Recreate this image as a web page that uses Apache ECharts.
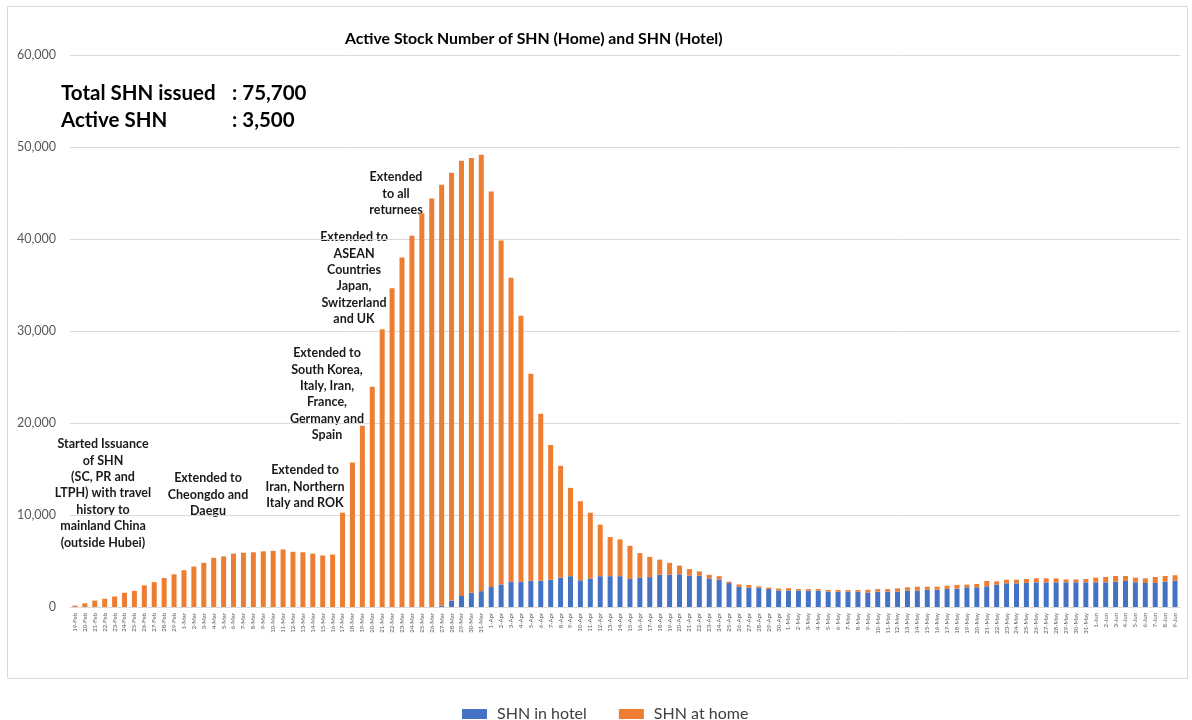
<!DOCTYPE html>
<html>
<head>
<meta charset="utf-8">
<script src="https://cdn.jsdelivr.net/npm/echarts@6/dist/echarts.min.js"></script>
<style>
  html, body { margin: 0; padding: 0; background: #fff; }
  #chart { width: 1192px; height: 720px; }
</style>
</head>
<body>
<div id="chart"></div>
<script>
// months covered, from 19 Feb 2020 to 9 Jun 2020
var monthSpans = [
  ['Feb', 19, 29],
  ['Mar', 1, 31],
  ['Apr', 1, 30],
  ['May', 1, 31],
  ['Jun', 1, 9]
]

var dayLabels = []
monthSpans.forEach(function (m) {
  for (var d = m[1]; d <= m[2]; d++) dayLabels.push(d + '-' + m[0])
})

var inHotel = [
  0, 0, 0, 0, 0, 0, 0, 0, 0, 0, 0, 0, 0, 0, 0, 0, 0, 0, 0, 0, 0, 0, 0, 0, 0, 0, 0,
  0, 0, 0, 0, 0, 0, 0, 0, 0, 0,
  150, 700, 1200, 1550, 1720, 2180, 2450,
  2750, 2750, 2850, 2850, 2950, 3200, 3350, 2900, 3100, 3350, 3350, 3350, 3050, 3200, 3250, 3500, 3500, 3550, 3400, 3400,
  3100, 3000, 2600, 2200, 2100, 2100, 1950, 1800, 1800, 1800, 1780, 1780, 1670, 1670, 1670, 1670, 1560, 1670, 1670, 1670, 1780, 1780, 1880, 1880,
  1950, 2000, 2140, 2140, 2250, 2430, 2570, 2570, 2610, 2680, 2680, 2680, 2680, 2680, 2680, 2680, 2680, 2750, 2830, 2680, 2610, 2610, 2750, 2860
]

var atHome = [
  150, 400, 700, 900, 1150, 1550, 1750, 2350, 2700, 3150, 3550, 4000, 4400, 4800, 5350, 5500, 5800, 5900, 5950, 6050, 6100, 6250, 6000, 5950, 5800, 5600, 5700,
  10250, 15700, 19700, 23950, 30200, 34650, 38000, 40350, 42800, 44400,
  45750, 46500, 47300, 47250, 47430, 42970, 37400,
  33050, 28900, 22500, 18150, 14650, 12150, 9600, 8600, 7150, 5600, 4250, 4000, 3600, 2650, 2200, 1650, 1300, 950, 720, 470,
  400, 350, 150, 250, 300, 150, 150, 200, 250, 150, 170, 170, 180, 180, 180, 180, 320, 280, 280, 360, 360, 430, 330, 330,
  370, 400, 290, 360, 580, 360, 400, 400, 430, 440, 440, 440, 320, 320, 360, 510, 580, 620, 540, 510, 510, 650, 620, 590
]

var annotations = [
  { x: 103, y: 436, lines: ['Started Issuance', 'of SHN', '(SC, PR and', 'LTPH) with travel', 'history to', 'mainland China', '(outside Hubei)'] },
  { x: 208, y: 470, lines: ['Extended to', 'Cheongdo and', 'Daegu'] },
  { x: 305, y: 462, lines: ['Extended to', 'Iran, Northern', 'Italy and ROK'] },
  { x: 327, y: 345, lines: ['Extended to', 'South Korea,', 'Italy, Iran,', 'France,', 'Germany and', 'Spain'] },
  { x: 354, y: 229, lines: ['Extended to', 'ASEAN', 'Countries', 'Japan,', 'Switzerland', 'and UK'] },
  { x: 396, y: 169, lines: ['Extended', 'to all', 'returnees'] }
]

var font = 'Lato, "Open Sans", sans-serif'

var chart = echarts.init(document.getElementById('chart'))

var graphics = [
  {
    type: 'rect',
    shape: { x: 7.5, y: 6.5, width: 1180, height: 672 },
    style: { fill: 'none', stroke: '#d9d9d9', lineWidth: 1 },
    silent: true
  },
  {
    type: 'text', left: 345, top: 31,
    style: { text: 'Active Stock Number of SHN (Home) and SHN (Hotel)', fill: '#000', font: 'bold 15.8px ' + font }
  },
  {
    type: 'text', left: 61, top: 80,
    style: { text: 'Total SHN issued\nActive SHN', fill: '#000', font: 'bold 20.5px ' + font, lineHeight: 27 }
  },
  {
    type: 'text', left: 232, top: 80,
    style: { text: ': 75,700\n: 3,500', fill: '#000', font: 'bold 20.5px ' + font, lineHeight: 27 }
  }
]

annotations.forEach(function (a) {
  graphics.push({
    type: 'text',
    x: a.x,
    y: a.y,
    style: {
      text: a.lines.join('\n'),
      align: 'center',
      verticalAlign: 'top',
      fill: '#1a1a1a',
      font: 'bold 12.5px ' + font,
      lineHeight: 16.4
    }
  })
})

chart.setOption({
  animation: false,
  textStyle: { fontFamily: font },
  graphic: graphics,
  legend: {
    left: 457,
    top: 701,
    itemWidth: 25,
    itemHeight: 10,
    itemGap: 32,
    icon: 'rect',
    textStyle: { fontSize: 16, color: '#404040', fontFamily: font, padding: [0, 0, 0, 5] },
    data: ['SHN in hotel', 'SHN at home']
  },
  grid: {
    left: 70,
    right: 12,
    top: 55,
    bottom: 113
  },
  xAxis: {
    type: 'category',
    data: dayLabels,
    axisTick: { show: false },
    axisLine: { lineStyle: { color: '#d9d9d9' } },
    axisLabel: {
      interval: 0,
      rotate: 90,
      fontSize: 6,
      color: '#595959',
      margin: 6
    }
  },
  yAxis: {
    type: 'value',
    min: 0,
    max: 60000,
    interval: 10000,
    axisLine: { show: false },
    axisTick: { show: false },
    splitLine: { lineStyle: { color: '#d9d9d9', width: 1 } },
    axisLabel: {
      fontSize: 12.5,
      color: '#595959',
      margin: 14,
      formatter: function (v) { return v.toLocaleString('en-US') }
    }
  },
  series: [
    {
      name: 'SHN in hotel',
      type: 'bar',
      stack: 'shn',
      barWidth: 5,
      itemStyle: { color: '#4472C4' },
      data: inHotel
    },
    {
      name: 'SHN at home',
      type: 'bar',
      stack: 'shn',
      barWidth: 5,
      itemStyle: { color: '#ED7D31' },
      data: atHome
    }
  ]
})
</script>
</body>
</html>
